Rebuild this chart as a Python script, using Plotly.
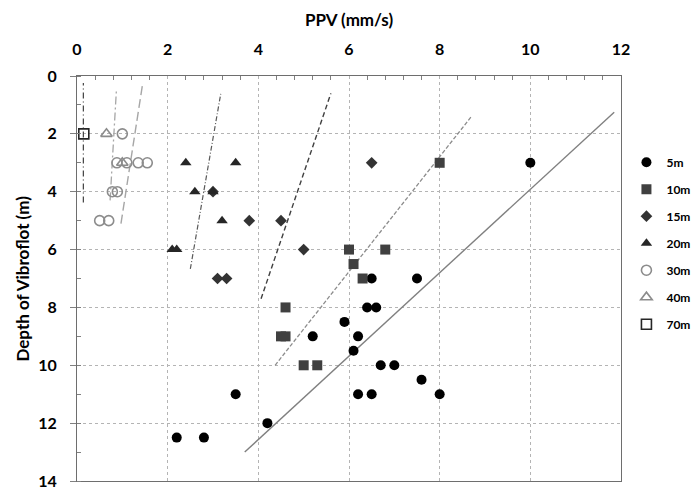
import plotly.graph_objects as go

# ---- data (PPV in mm/s, depth in m) ----
x5 = [10, 6.5, 7.5, 6.4, 6.6, 5.9, 5.2, 6.2, 6.1, 6.7, 7.0, 7.6, 3.5, 6.2, 6.5, 8.0, 4.2, 2.2, 2.8]
y5 = [3, 7, 7, 8, 8, 8.5, 9, 9, 9.5, 10, 10, 10.5, 11, 11, 11, 11, 12, 12.5, 12.5]
x10 = [8.0, 6.0, 6.8, 6.1, 6.3, 4.6, 4.5, 4.6, 5.0, 5.3]
y10 = [3, 6, 6, 6.5, 7, 8, 9, 9, 10, 10]
x15 = [6.5, 3.0, 3.8, 4.5, 5.0, 3.1, 3.3]
y15 = [3, 4, 5, 5, 6, 7, 7]
x20 = [2.4, 3.5, 2.6, 3.0, 3.2, 2.1, 2.2]
y20 = [3, 3, 4, 4, 5, 6, 6]
x30 = [1.0, 0.88, 1.1, 1.35, 1.55, 0.78, 0.89, 0.5, 0.7]
y30 = [2, 3, 3, 3, 3, 4, 4, 5, 5]
x40 = [0.65, 1.0]
y40 = [2, 3]
x70 = [0.15]
y70 = [2]

# trend line end points
t5_x, t5_y = [3.7, 11.85], [13.0, 1.25]
t10_x, t10_y = [4.37, 8.7], [10.0, 1.4]
t15_x, t15_y = [4.06, 5.6], [7.7, 0.6]
t20_x, t20_y = [2.5, 3.17], [6.67, 0.62]
t30_x, t30_y = [0.97, 1.45], [5.1, 0.25]
t40_x, t40_y = [0.73, 0.87], [4.3, 0.47]
t70_x, t70_y = [0.14, 0.14], [4.37, 0.24]

series_names = ["5m", "10m", "15m", "20m", "30m", "40m", "70m"]

FONT = "Lato"

fig = go.Figure()

# trend lines (drawn first, under markers)
lines = [
    (t5_x, t5_y, "#808080", None, 1.4),
    (t10_x, t10_y, "#8c8c8c", "4px,2px", 1.3),
    (t15_x, t15_y, "#404040", "5px,3px", 1.4),
    (t20_x, t20_y, "#595959", "5px,2px,1px,2px", 1.2),
    (t30_x, t30_y, "#a6a6a6", "9px,4px", 1.4),
    (t40_x, t40_y, "#a6a6a6", "8px,3px,2px,3px", 1.3),
    (t70_x, t70_y, "#404040", "6px,3px,1px,3px", 1.2),
]
for lx, ly, col, dash, w in lines:
    fig.add_trace(go.Scatter(
        x=lx, y=ly, mode="lines", showlegend=False, hoverinfo="skip",
        line=dict(color=col, width=w, dash=dash if dash else "solid"),
    ))

markers = [
    (x5, y5, dict(symbol="circle", size=10, color="#000000")),
    (x10, y10, dict(symbol="square", size=10, color="#404040")),
    (x15, y15, dict(symbol="diamond", size=9, color="#333333")),
    (x20, y20, dict(symbol="triangle-up", size=10, color="#262626")),
    (x30, y30, dict(symbol="circle-open", size=10, color="#8c8c8c", line=dict(width=1.6, color="#8c8c8c"))),
    (x40, y40, dict(symbol="triangle-up-open", size=10, color="#8c8c8c", line=dict(width=1.6, color="#8c8c8c"))),
    (x70, y70, dict(symbol="square-open", size=10, color="#262626", line=dict(width=1.6, color="#262626"))),
]
for name, (mx, my, mk) in zip(series_names, markers):
    fig.add_trace(go.Scatter(
        x=mx, y=my, mode="markers", name=name, legendgroup=name, marker=mk,
    ))

fig.update_layout(
    width=694, height=493,
    margin=dict(l=77, r=73, t=76, b=12, autoexpand=False),
    paper_bgcolor="white", plot_bgcolor="white",
    font=dict(family=FONT, color="#000000"),
    legend=dict(
        x=1.010, y=0.823, xanchor="left", yanchor="top",
        font=dict(family=FONT, size=12, weight="bold", color="#000000"),
        tracegroupgap=8, itemwidth=30, bgcolor="rgba(0,0,0,0)",
    ),
    xaxis=dict(
        side="top", range=[0, 12], dtick=2, tick0=0, automargin=False,
        showgrid=True, gridcolor="#b4b4b4", griddash="dot", gridwidth=1,
        zeroline=False, showline=True, linecolor="#6e6e6e", linewidth=1.2, mirror=True,
        ticks="", tickfont=dict(family=FONT, size=16, weight="bold", color="#000000"),
        ticklabelstandoff=14,
        minor=dict(dtick=0.4, ticks="inside", ticklen=4, tickcolor="#808080", showgrid=False),
        title=dict(text="PPV (mm/s)", font=dict(family=FONT, size=17, weight="bold"), standoff=7),
    ),
    yaxis=dict(
        range=[14, 0], dtick=2, tick0=0, automargin=False,
        showgrid=True, gridcolor="#b4b4b4", griddash="dot", gridwidth=1,
        zeroline=False, showline=True, linecolor="#6e6e6e", linewidth=1.2, mirror=True,
        ticks="outside", ticklen=6, tickcolor="#808080",
        tickfont=dict(family=FONT, size=16, weight="bold", color="#000000"),
        ticklabelstandoff=10,
        minor=dict(dtick=1, ticks="inside", ticklen=4, tickcolor="#808080", showgrid=False),
    ),
    annotations=[dict(
        text="Depth of Vibroflot (m)", textangle=-90, showarrow=False,
        xref="paper", yref="paper", x=-0.101, y=0.5, xanchor="center", yanchor="middle",
        font=dict(family=FONT, size=17, weight="bold", color="#000000"),
    )],
)

# remove the default 8px page margin so the 694x493 figure fills the window exactly
fig.write_html(
    "out.html",
    config={"displayModeBar": False},
    post_script="document.body.style.margin='0';document.body.style.overflow='hidden';",
)
